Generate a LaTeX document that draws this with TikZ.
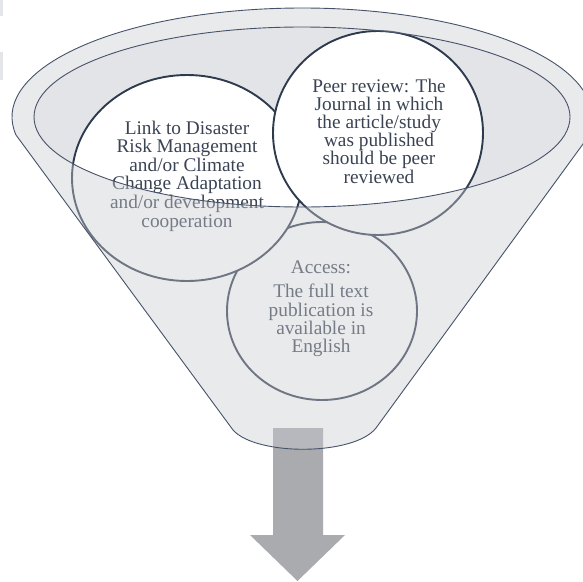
\documentclass[tikz,border=0pt]{standalone}
\usepackage{fontspec}
\setmainfont{Liberation Serif}
\definecolor{ink}{HTML}{3A4354}
\definecolor{edge}{HTML}{2E3A4E}
\definecolor{rimline}{HTML}{46526A}
\definecolor{mouth}{HTML}{E3E4E7}
\definecolor{veil}{RGB}{202,204,209}
\definecolor{arrowgray}{HTML}{A9ABAF}
\definecolor{crumb}{HTML}{E4E5E8}
\begin{document}
\lineskiplimit=-50pt\relax
\begin{tikzpicture}[x=1pt,y=-1pt,
  lens/.style={fill=white, draw=edge, line width=1.9pt},
  lenstext/.style={text=ink, align=center, inner sep=0pt,
    font=\fontsize{19.3}{18.6}\selectfont},
  rimstroke/.style={draw=rimline, line width=0.9pt}]
\useasboundingbox (0,0) rectangle (583,581);
\clip (0,0) rectangle (583,581);

% stray edge marks at the top left
\fill[crumb] (0,0) rectangle (2.5,16);
\fill[crumb] (0,52) rectangle (2.5,80);

% funnel body (back) and its open mouth
\fill[white] (16,135) arc[start angle=170.5, end angle=376, x radius=290, y radius=109]
  -- (376,428) .. controls (354,456) and (256,456) .. (233,430) -- cycle;
\fill[mouth] (302,117) ellipse [x radius=268, y radius=90];

% outlet arrow
\fill[arrowgray] (273,428) -- (323,428) -- (323,535) -- (345,535) -- (297.5,581)
  -- (250,535) -- (273,535) -- cycle;

% criteria circles
\draw[lens] (322,311) ellipse [x radius=95, y radius=89];
\draw[lens] (187,178) ellipse [x radius=115, y radius=103];
\draw[lens] (378,133) ellipse [x radius=105, y radius=102];

\node[lenstext] (linktxt) at (187,176)
  {Link to Disaster\\Risk Management\\and/or Climate\\Change Adaptation\\and/or development\\cooperation};
\node[lenstext, font=\fontsize{19.3}{18.2}\selectfont] (peertxt) at (379,131)
  {Peer review: The\\Journal in which\\the article/study\\was published\\should be peer\\reviewed};
\node[lenstext] (accesstxt) at (321,309)
  {Access:\\[5.2pt]The full text\\[0.2pt]publication is\\[-0.6pt]available in\\[-0.6pt]English};

% front wall of the funnel, a translucent veil over everything below the rim
\fill[veil, fill opacity=0.41, even odd rule]
  (16,135) arc[start angle=170.5, end angle=376, x radius=290, y radius=109]
  -- (376,428) .. controls (354,456) and (256,456) .. (233,430) -- cycle
  (302,117) ellipse [x radius=268, y radius=90];

% funnel outlines
\draw[rimstroke] (16,135) arc[start angle=170.5, end angle=376, x radius=290, y radius=109]
  -- (376,428) .. controls (354,456) and (256,456) .. (233,430) -- cycle;
\draw[rimstroke] (302,117) ellipse [x radius=268, y radius=90];
\end{tikzpicture}
\end{document}
